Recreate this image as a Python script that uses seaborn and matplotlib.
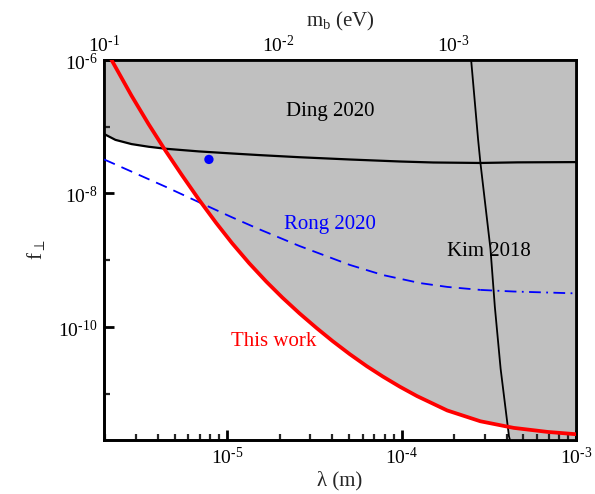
import numpy as np
import pandas as pd
import matplotlib
matplotlib.use("Agg")
import matplotlib.pyplot as plt
import matplotlib.transforms as mtransforms
import seaborn as sns
from matplotlib.ticker import LogLocator, FixedLocator, NullFormatter, FixedFormatter

# ---------------- data (log10 values) ----------------
red_logx = [-5.663, -5.548, -5.450, -5.352, -5.259, -5.161, -5.063, -4.971,
            -4.873, -4.775, -4.683, -4.585, -4.487, -4.395, -4.297, -4.199,
            -4.107, -4.009, -3.911, -3.738, -3.548, -3.357, -3.161, -3.0]
red_logy = [-6.000, -6.537, -6.964, -7.366, -7.728, -8.096, -8.443, -8.749,
            -9.049, -9.324, -9.563, -9.799, -10.019, -10.215, -10.410, -10.591,
            -10.746, -10.899, -11.039, -11.254, -11.416, -11.515, -11.576, -11.610]

ding_logx = [-5.705, -5.640, -5.548, -5.450, -5.352, -5.161, -4.971, -4.816,
             -4.585, -4.297, -4.009, -3.818, -3.548, -3.334, -3.0]
ding_logy = [-7.112, -7.200, -7.263, -7.303, -7.333, -7.373, -7.404, -7.428,
             -7.460, -7.494, -7.524, -7.539, -7.546, -7.537, -7.533]

kim_logx = [-3.601, -3.561, -3.548, -3.490, -3.465, -3.432, -3.384, -3.378]
kim_logy = [-6.0, -7.194, -7.537, -8.836, -9.701, -10.627, -11.642, -11.70]

rong_logx = [-5.705, -5.548, -5.352, -5.161, -4.971, -4.816, -4.585, -4.297,
             -4.107, -3.893, -3.738, -3.548, -3.357, -3.0]
rong_logy = [-7.493, -7.675, -7.903, -8.134, -8.361, -8.539, -8.790, -9.073,
             -9.225, -9.346, -9.403, -9.448, -9.472, -9.500]

dot_logx = [-5.104]
dot_logy = [-7.493]

xlim = (1.97327e-6, 1e-3)
ylim = (2.0e-12, 1e-6)
hbarc = 1.97327e-7  # eV*m

bottom_major = [1e-5, 1e-4, 1e-3]
bottom_labels = ["10$^{\\text{-}5}$", "10$^{\\text{-}4}$", "10$^{\\text{-}3}$"]
left_major = [1e-6, 1e-8, 1e-10]
left_labels = ["10$^{\\text{-}6}$", "10$^{\\text{-}8}$", "10$^{\\text{-}10}$"]
left_minor = [1e-7, 1e-9, 1e-11]
top_major = [1e-1, 1e-2, 1e-3]
top_labels = ["10$^{\\text{-}1}$", "10$^{\\text{-}2}$", "10$^{\\text{-}3}$"]

def df(lx, ly):
    return pd.DataFrame({"x": 10 ** np.array(lx), "y": 10 ** np.array(ly)})

red = df(red_logx, red_logy)
ding = df(ding_logx, ding_logy)
kim = df(kim_logx, kim_logy)
rong = df(rong_logx, rong_logy)
dot = df(dot_logx, dot_logy)

# ---------------- style ----------------
sns.set_theme(style="ticks")
plt.rcParams["font.family"] = ["Liberation Serif", "DejaVu Serif"]
plt.rcParams["mathtext.fontset"] = "custom"
plt.rcParams["mathtext.rm"] = "Liberation Serif"
plt.rcParams["mathtext.it"] = "Liberation Serif:italic"
plt.rcParams["mathtext.bf"] = "Liberation Serif:bold"

fig = plt.figure(figsize=(5.95, 4.94), dpi=100)
ax = fig.add_axes([0.175, 0.109, 0.793, 0.770])
ax.set_xscale("log")
ax.set_yscale("log")
ax.set_xlim(*xlim)
ax.set_ylim(*ylim)

gray = "#c0c0c0"
ax.fill_between(ding["x"], ding["y"], ylim[1], color=gray, lw=0, zorder=0)
ax.fill_between(red["x"], red["y"], ylim[1], color=gray, lw=0, zorder=0)
ax.fill_betweenx(kim["y"], kim["x"], xlim[1], color=gray, lw=0, zorder=0)

sns.lineplot(data=ding, x="x", y="y", ax=ax, color="black", lw=1.6,
             estimator=None, sort=False, zorder=3)
sns.lineplot(data=kim, x="x", y="y", ax=ax, color="black", lw=1.3,
             estimator=None, sort=False, zorder=3)
lx = np.log10(rong["x"])
sns.lineplot(data=rong[lx <= -3.548], x="x", y="y", ax=ax, color="#0000ff",
             lw=1.3, estimator=None, sort=False, zorder=3,
             linestyle=(0, (6.5, 4)))
sns.lineplot(data=rong[lx >= -3.548], x="x", y="y", ax=ax,
             color="#0000ff", lw=1.3, estimator=None, sort=False, zorder=3,
             linestyle=(0, (6.5, 3, 1, 3)))
sns.lineplot(data=red, x="x", y="y", ax=ax, color="#ff0000", lw=2.7,
             estimator=None, sort=False, zorder=4)
sns.scatterplot(data=dot, x="x", y="y", ax=ax, color="#0000ff", s=45,
                edgecolor="none", zorder=5)

# annotations
ax.text(10 ** -4.406, 10 ** -6.776, "Ding 2020", color="black", fontsize=15,
        ha="center", va="center")
ax.text(10 ** -4.409, 10 ** -8.463, "Rong 2020", color="#0000ff", fontsize=15,
        ha="center", va="center")
ax.text(10 ** -3.499, 10 ** -8.866, "Kim 2018", color="black", fontsize=15,
        ha="center", va="center")
ax.text(10 ** -4.735, 10 ** -10.224, "This work", color="#ff0000", fontsize=15,
        ha="center", va="center")

# axes styling
for s in ax.spines.values():
    s.set_linewidth(2.0)
    s.set_color("black")
    s.set_visible(True)

ax.xaxis.set_major_locator(FixedLocator(bottom_major))
ax.xaxis.set_major_formatter(FixedFormatter(bottom_labels))
ax.xaxis.set_minor_locator(LogLocator(base=10, subs=np.arange(2, 10)))
ax.xaxis.set_minor_formatter(NullFormatter())
ax.yaxis.set_major_locator(FixedLocator(left_major))
ax.yaxis.set_major_formatter(FixedFormatter(left_labels))
ax.yaxis.set_minor_locator(FixedLocator(left_minor))
ax.yaxis.set_minor_formatter(NullFormatter())
ax.tick_params(which="major", direction="in", length=7, width=2,
               labelsize=14, top=False, right=False, pad=5, colors="black")
ax.tick_params(which="minor", direction="in", length=4, width=1.6,
               top=False, right=False)
shift = mtransforms.ScaledTranslation(0, -2.5 / 72, fig.dpi_scale_trans)
for t in ax.yaxis.get_major_ticks():
    t.label1.set_verticalalignment("center")
    t.label1.set_transform(t.label1.get_transform() + shift)
ax.set_xlabel("λ (m)", fontsize=15, labelpad=2)
ax.set_ylabel("f$_\\perp$", fontsize=15, labelpad=8)

ax2 = ax.twiny()
ax2.set_xscale("log")
ax2.set_xlim(hbarc / xlim[0], hbarc / xlim[1])
ax2.xaxis.set_major_locator(FixedLocator(top_major))
ax2.xaxis.set_major_formatter(FixedFormatter(top_labels))
ax2.xaxis.set_minor_locator(LogLocator(base=10, subs=np.arange(2, 10)))
ax2.xaxis.set_minor_formatter(NullFormatter())
ax2.tick_params(which="major", direction="in", length=7, width=2,
                labelsize=14, pad=3, colors="black")
ax2.tick_params(which="minor", direction="in", length=4, width=1.6)
ax2.set_xlabel("m$_\\mathregular{b}$ (eV)", fontsize=15, labelpad=6)
for s in ax2.spines.values():
    s.set_linewidth(2.0)
ax.set_zorder(ax2.get_zorder() + 1)
ax.patch.set_visible(False)

fig.savefig("out.png", dpi=100)
